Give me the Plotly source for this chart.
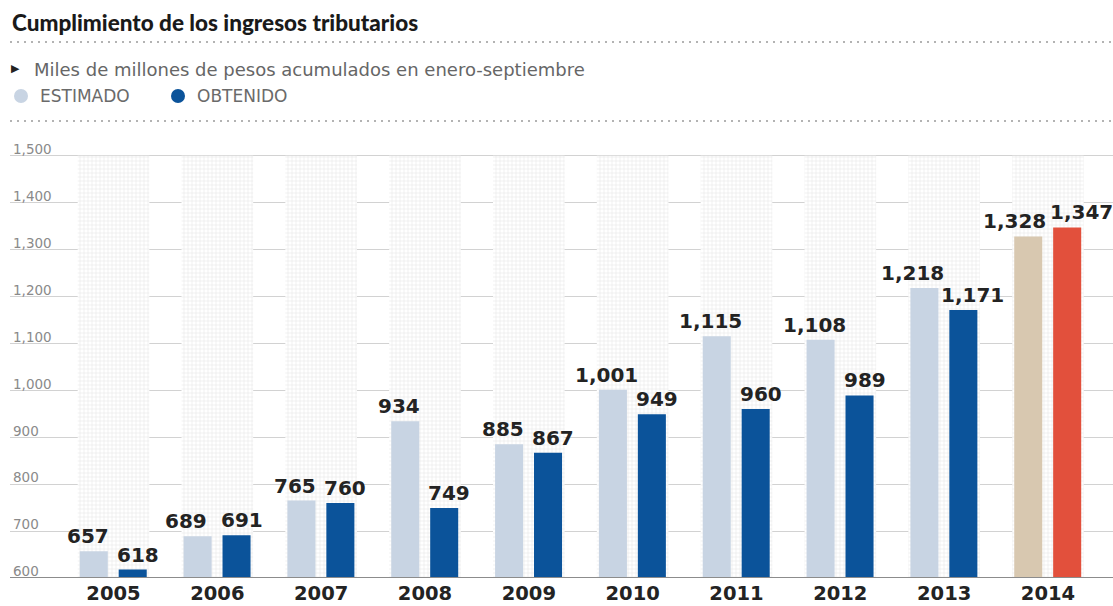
import plotly.graph_objects as go

# Tax revenue, Jan-Sep accumulated (thousands of millions of pesos)
years = [2005, 2006, 2007, 2008, 2009, 2010, 2011, 2012, 2013, 2014]
estimado = [657, 689, 765, 934, 885, 1001, 1115, 1108, 1218, 1328]
obtenido = [618, 691, 760, 749, 867, 949, 960, 989, 1171, 1347]
y_ticks = [600, 700, 800, 900, 1000, 1100, 1200, 1300, 1400, 1500]

EST_COLOR = "#c8d4e3"
OBT_COLOR = "#0b539a"
EST_2014 = "#d8c8b0"
OBT_2014 = "#e2503c"

est_colors = [EST_COLOR] * (len(years) - 1) + [EST_2014]
obt_colors = [OBT_COLOR] * (len(years) - 1) + [OBT_2014]

# bar geometry in x-axis (year) units
BAR_W = 0.27
EST_OFF = -0.325
OBT_OFF = 0.05

# canvas geometry
W, H = 1113, 606
M_L, M_R, M_T, M_B = 10, 0, 151, 28
PLOT_BOTTOM = H - M_B
PLOT_H = H - M_T - M_B


def py(ypx):
    """pixel row -> paper y"""
    return (PLOT_BOTTOM - ypx) / PLOT_H


def px(xpx):
    """pixel column -> paper x"""
    return (xpx - M_L) / (W - M_L - M_R)


label_font = dict(family="DejaVu Sans", size=20, color="#232323", weight="bold")

fig = go.Figure()

# hatched background band behind each year group
fig.add_trace(go.Bar(
    x=years, y=[y_ticks[-1] - y_ticks[0]] * len(years), base=y_ticks[0],
    offset=-0.345, width=0.69,
    marker=dict(color="white", line=dict(width=0),
                pattern=dict(shape="+", size=4, solidity=0.3,
                             fgcolor="#d4d4d4", bgcolor="white")),
    hoverinfo="skip", showlegend=False,
))

fig.add_trace(go.Bar(
    x=years, y=estimado, name="ESTIMADO",
    offset=EST_OFF, width=BAR_W,
    marker=dict(color=est_colors, line=dict(width=0)),
    hoverinfo="x+y", showlegend=False,
))

fig.add_trace(go.Bar(
    x=years, y=obtenido, name="OBTENIDO",
    offset=OBT_OFF, width=BAR_W,
    marker=dict(color=obt_colors, line=dict(width=0)),
    hoverinfo="x+y", showlegend=False,
))

# value labels above each bar, nudged apart where neighbours would collide
est_nudge = {2006: -12, 2013: -12, 2014: -14}
obt_nudge = {2013: 9, 2014: 14}
for yr, e, o in zip(years, estimado, obtenido):
    fig.add_annotation(
        x=yr + EST_OFF + BAR_W / 2, y=e, text=f"{e:,}",
        xref="x", yref="y", showarrow=False, yanchor="middle",
        yshift=15, xshift=est_nudge.get(yr, -6), font=label_font,
    )
    fig.add_annotation(
        x=yr + OBT_OFF + BAR_W / 2, y=o, text=f"{o:,}",
        xref="x", yref="y", showarrow=False, yanchor="middle",
        yshift=15, xshift=obt_nudge.get(yr, 5), font=label_font,
    )

px_per_year = 103.83
x_min = 2005 - (113.5 - M_L) / px_per_year
x_max = x_min + (W - M_L - M_R) / px_per_year

fig.update_layout(
    width=W, height=H,
    margin=dict(l=M_L, r=M_R, t=M_T, b=M_B),
    paper_bgcolor="white", plot_bgcolor="white",
    barmode="overlay",
    xaxis=dict(
        range=[x_min, x_max], tickmode="array", tickvals=years,
        ticktext=[str(y) for y in years], ticks="", showgrid=False,
        zeroline=False, showline=False, ticklabelstandoff=1, automargin=False,
        tickfont=dict(family="DejaVu Sans", size=19.5, color="#232323", weight="bold"),
    ),
    yaxis=dict(
        range=[600, 1510], tickmode="array", tickvals=y_ticks,
        tickformat=",d", ticklabelposition="inside top", ticklabelshift=3,
        ticklabeloverflow="allow", automargin=False,
        showgrid=True, gridcolor="#d2d2d2", gridwidth=1,
        zeroline=False, showline=False, ticks="",
        tickfont=dict(family="DejaVu Sans", size=13.5, color="#8a8a8a"),
    ),
    showlegend=False,
)

# baseline
fig.add_shape(type="line", xref="paper", yref="y", x0=0, x1=1, y0=600, y1=600,
              line=dict(color="#8c8c8c", width=2), layer="above")

# dotted separators under the title and under the legend
for ypx in [42, 121]:
    fig.add_shape(type="line", xref="paper", yref="paper",
                  x0=0, x1=1, y0=py(ypx), y1=py(ypx),
                  line=dict(color="#9a9a9a", width=1.5, dash="2px,5px"))

fig.add_annotation(
    text="Cumplimiento de los ingresos tributarios",
    xref="paper", yref="paper", x=0, y=py(22),
    xanchor="left", yanchor="middle", showarrow=False,
    font=dict(family="Lato", size=22.5, color="#1a1a1a", weight=900),
)
fig.add_annotation(
    text="▶",
    xref="paper", yref="paper", x=px(9), y=py(68),
    xanchor="left", yanchor="middle", showarrow=False,
    font=dict(family="DejaVu Sans", size=11, color="#222222"),
)
fig.add_annotation(
    text="Miles de millones de pesos acumulados en enero-septiembre",
    xref="paper", yref="paper", x=px(32), y=py(69),
    xanchor="left", yanchor="middle", showarrow=False,
    font=dict(family="DejaVu Sans", size=18, color="#666666"),
)

# legend: coloured dots with labels
legend_items = [("ESTIMADO", EST_COLOR, 21, 38), ("OBTENIDO", OBT_COLOR, 178, 195)]
for name, color, cx, tx in legend_items:
    fig.add_shape(type="circle", xref="paper", yref="paper",
                  x0=px(cx - 7), x1=px(cx + 7),
                  y0=py(103), y1=py(89),
                  fillcolor=color, line=dict(width=0))
    fig.add_annotation(
        text=name, xref="paper", yref="paper",
        x=px(tx), y=py(96),
        xanchor="left", yanchor="middle", showarrow=False,
        font=dict(family="DejaVu Sans", size=17, color="#6a6a6a"),
    )

fig.write_html("out.html")
